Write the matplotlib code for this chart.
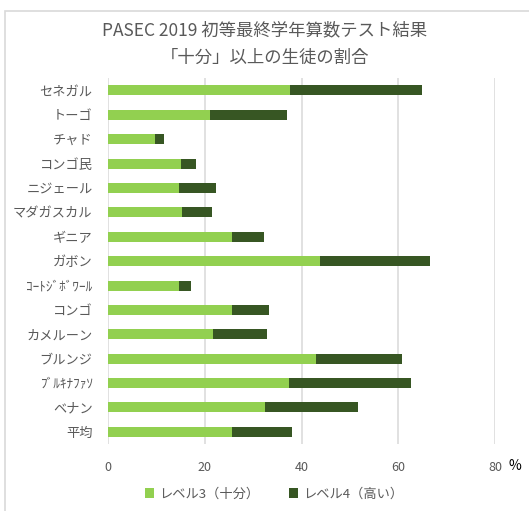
import matplotlib.pyplot as plt
from matplotlib.patches import Rectangle

plt.rcParams['font.family'] = ['Noto Sans CJK JP', 'DejaVu Sans']

# data (top to bottom as in the chart)
countries = ['セネガル', 'トーゴ', 'チャド', 'コンゴ民', 'ニジェール', 'マダガスカル', 'ギニア', 'ガボン',
             'ｺｰﾄｼﾞﾎﾞﾜｰﾙ', 'コンゴ', 'カメルーン', 'ブルンジ', 'ﾌﾞﾙｷﾅﾌｧｿ', 'ベナン', '平均']
level3 = [37.7, 21.1, 9.7, 15.1, 14.6, 15.3, 25.6, 43.8, 14.6, 25.6, 21.8, 42.9, 37.5, 32.5, 25.6]
level4 = [27.2, 15.9, 1.8, 3.2, 7.8, 6.2, 6.7, 22.8, 2.5, 7.7, 11.1, 17.9, 25.1, 19.1, 12.5]
xticks = [0, 20, 40, 60, 80]

light = '#92D050'
dark = '#375623'
grey = '#595959'

fig = plt.figure(figsize=(5.29, 5.11), dpi=100)
ax = fig.add_axes([0.204, 0.131, 0.732, 0.716])

pos = list(range(len(countries)))[::-1]
ax.barh(pos, level3, height=0.41, color=light, label='レベル3（十分）', zorder=3)
ax.barh(pos, level4, left=level3, height=0.41, color=dark, label='レベル4（高い）', zorder=3)

ax.set_xlim(0, 80)
ax.set_ylim(-0.5, len(countries) - 0.5)
ax.set_xticks(xticks)
ax.set_yticks(pos)
ax.set_yticklabels(countries)
ax.grid(axis='x', color='#D9D9D9', linewidth=1.1, zorder=0)
for s in ax.spines.values():
    s.set_visible(False)
ax.tick_params(axis='y', length=0, pad=11, labelsize=9.5, labelcolor=grey)
ax.tick_params(axis='x', length=0, pad=12, labelsize=9, labelcolor=grey)

fig.text(0.5, 1 - 30 / 511, 'PASEC 2019 初等最終学年算数テスト結果', ha='center', va='center',
         fontsize=12.5, color=grey)
fig.text(0.5, 1 - 58 / 511, '「十分」以上の生徒の割合', ha='center', va='center',
         fontsize=12.5, color=grey)
fig.text(515 / 529, 1 - 466 / 511, '%', ha='center', va='center', fontsize=10, color='black')

fig.legend(loc='center', bbox_to_anchor=(0.518, 0.033), ncol=2, frameon=False,
           fontsize=9.5, labelcolor=grey, handlelength=0.7, handleheight=0.7,
           handletextpad=0.4, columnspacing=2.2)

# chart border (top and left visible)
fig.patches.append(Rectangle((5 / 529, -0.05), 1.1, 1 - 11 / 511 + 0.05, transform=fig.transFigure,
                             fill=False, edgecolor='#D9D9D9', linewidth=1.2))

fig.savefig('out.png', dpi=100)
